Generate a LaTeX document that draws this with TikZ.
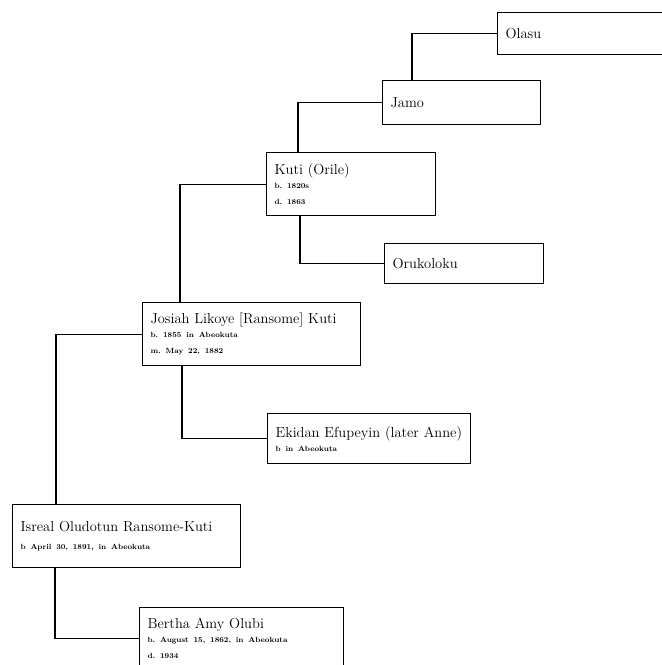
\documentclass[tikz,border=0pt]{standalone}
\usepackage{tikz}

\newcommand{\persname}{\fontsize{14.5}{16}\selectfont}
\newcommand{\persinfo}{\fontsize{7.5}{11.5}\selectfont\bfseries\frenchspacing}

\begin{document}
\begin{tikzpicture}[
        x=1pt, y=-1pt,
        person/.style={
          draw,
          line width=1.2pt,
          anchor=north west,
          align=left,
          inner xsep=8pt,
          inner ysep=0pt,
          font=\persname
        },
        link/.style={line width=1.2pt}
      ]

        \fill[white] (0,0) rectangle (662,665);
        \useasboundingbox (0,0) rectangle (662,665);

        \node[person, text width=159pt, minimum height=42pt] (olasu) at (497,12) {Olasu};
        \node[person, text width=142pt, minimum height=44pt] (jamo) at (382,80) {Jamo};
        \node[person, text width=153pt, minimum height=63pt] (kuti) at (266,152)
          {Kuti (Orile)\\[-2pt]{\persinfo b. 1820s}\\{\persinfo d. 1863}};
        \node[person, text width=143pt, minimum height=40pt] (orukoloku) at (384,243) {Orukoloku};
        \node[person, text width=202pt, minimum height=63pt] (josiah) at (142,302)
          {Josiah Likoye [Ransome] Kuti\\[-2pt]{\persinfo b. 1855 in Abeokuta}\\{\persinfo m. May 22, 1882}};
        \node[person, text width=187pt, minimum height=50pt] (ekidan) at (267,413)
          {Ekidan Efupeyin (later Anne)\\[-2pt]{\persinfo b in Abeokuta}};
        \node[person, text width=212pt, minimum height=63pt] (isreal) at (12,504)
          {Isreal Oludotun Ransome-Kuti\\[2pt]{\persinfo b April 30, 1891, in Abeokuta}};
        \node[person, text width=188pt, minimum height=62pt] (bertha) at (139,607)
          {Bertha Amy Olubi\\[-2pt]{\persinfo b. August 15, 1862, in Abeokuta}\\{\persinfo d. 1934}};

        \draw[link] (jamo.north west) ++(30,0) |- (olasu.west);
        \draw[link] (kuti.north west) ++(32,0) |- (jamo.west);
        \draw[link] (kuti.south west) ++(34,0) |- (orukoloku.west);
        \draw[link] (josiah.north west) ++(38,0) |- (kuti.west);
        \draw[link] (josiah.south west) ++(40,0) |- (ekidan.west);
        \draw[link] (isreal.north west) ++(44,0) |- (josiah.west);
        \draw[link] (isreal.south west) ++(43,0) |- (bertha.west);

      \end{tikzpicture}
\end{document}
